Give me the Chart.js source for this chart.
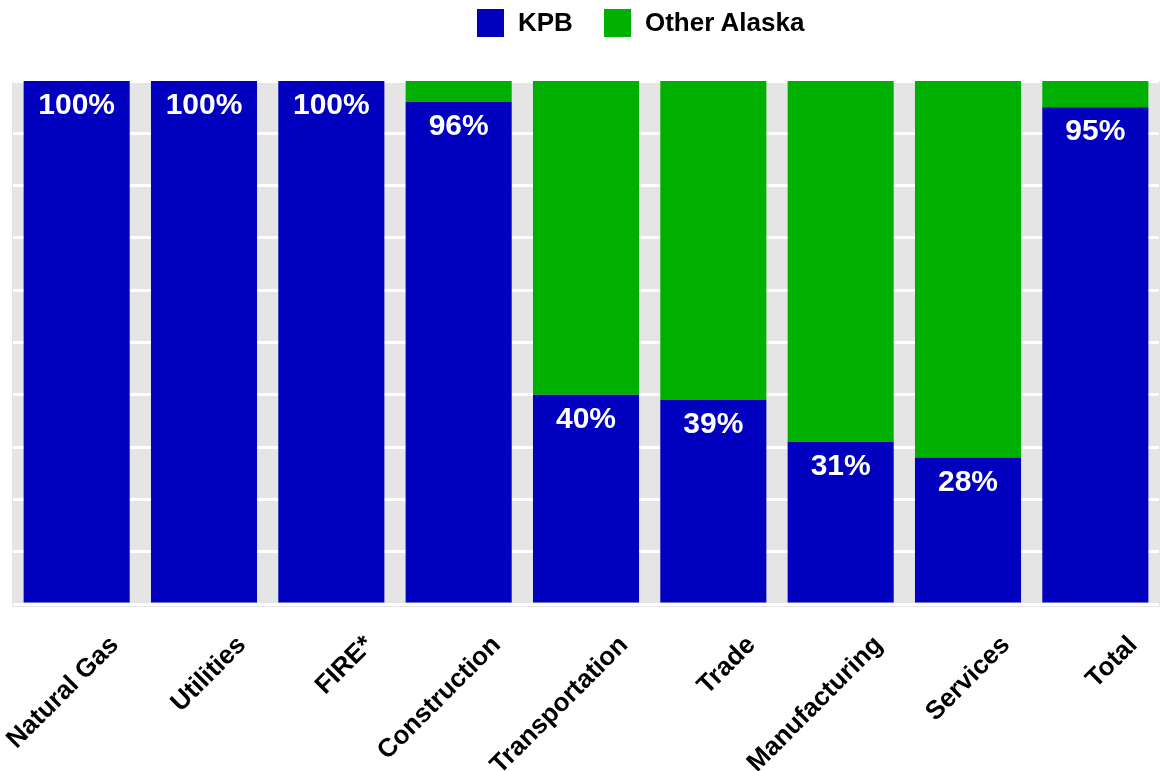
<!DOCTYPE html>
<html>
<head>
<meta charset="utf-8">
<script src="https://cdn.jsdelivr.net/npm/chart.js@4.4.1/dist/chart.umd.min.js"></script>
<style>
  html, body { margin: 0; padding: 0; background: #fff; }
  #wrap { position: relative; width: 1160px; height: 771px; }
  #legend { position: absolute; top: 7px; left: 477px; display: flex; align-items: center;
            font-family: "Liberation Sans", Arial, sans-serif; font-weight: bold; font-size: 26px; color: #000; }
  .item { display: flex; align-items: center; }
  .box { width: 27px; height: 28px; margin-right: 14px; }
</style>
</head>
<body>
<div id="wrap">
  <canvas id="c" width="1160" height="771"></canvas>
  <div id="legend"></div>
</div>
<script>
const categories = ["Natural Gas", "Utilities", "FIRE*", "Construction", "Transportation", "Trade", "Manufacturing", "Services", "Total"];
const kpbValues = [100, 100, 100, 96, 40, 39, 31, 28, 95];
const otherAlaskaValues = [0, 0, 0, 4, 60, 61, 69, 72, 5];
const seriesNames = ["KPB", "Other Alaska"];
const seriesColors = ["#0000BE", "#00B000"];

// HTML legend
const legendEl = document.getElementById('legend');
seriesNames.forEach((n, i) => {
  const it = document.createElement('div');
  it.className = 'item';
  if (i > 0) it.style.marginLeft = '31px';
  const b = document.createElement('div');
  b.className = 'box';
  b.style.background = seriesColors[i];
  const t = document.createElement('span');
  t.textContent = n;
  it.appendChild(b); it.appendChild(t);
  legendEl.appendChild(it);
});

const bgPlugin = {
  id: 'bg',
  beforeDraw(chart) {
    const {ctx, chartArea: a} = chart;
    ctx.save();
    ctx.fillStyle = '#E5E5E5';
    ctx.fillRect(a.left - 1, a.top, chart.width - a.left + 1, a.bottom - a.top + 3);
    ctx.restore();
  }
};

const labelPlugin = {
  id: 'barLabels',
  afterDatasetsDraw(chart) {
    const {ctx} = chart;
    const meta = chart.getDatasetMeta(0);
    ctx.save();
    ctx.fillStyle = '#FFFFFF';
    ctx.font = 'bold 30px "Liberation Sans", Arial, sans-serif';
    ctx.textAlign = 'center';
    ctx.textBaseline = 'alphabetic';
    meta.data.forEach((bar, i) => {
      ctx.fillText(kpbValues[i] + '%', bar.x, bar.y + 33);
    });
    ctx.restore();
  }
};

new Chart(document.getElementById('c'), {
  type: 'bar',
  data: {
    labels: categories,
    datasets: [
      { label: seriesNames[0], data: kpbValues, backgroundColor: seriesColors[0] },
      { label: seriesNames[1], data: otherAlaskaValues, backgroundColor: seriesColors[1] }
    ]
  },
  options: {
    responsive: false,
    animation: false,
    layout: { padding: { top: 81, left: 13, right: 1, bottom: 0 } },
    datasets: { bar: { categoryPercentage: 1, barPercentage: 0.833, borderWidth: 0 } },
    plugins: { legend: { display: false }, tooltip: { enabled: false }, title: { display: false } },
    scales: {
      x: {
        stacked: true,
        grid: { display: false, drawTicks: false },
        border: { display: false },
        afterFit(s) { s.height = 167; s.paddingLeft = 0; s.paddingRight = 0; },
        ticks: {
          autoSkip: false,
          maxRotation: 45, minRotation: 45,
          padding: 26,
          labelOffset: 38,
          color: '#000',
          font: { family: '"Liberation Sans", Arial, sans-serif', weight: 'bold', size: 26 }
        }
      },
      y: {
        stacked: true,
        min: 0, max: 100,
        afterFit(s) { s.width = 0; s.paddingTop = 0; s.paddingBottom = 0; },
        border: { display: false },
        grid: { color: '#FFFFFF', lineWidth: 3, drawTicks: false },
        ticks: { display: false, stepSize: 10 }
      }
    }
  },
  plugins: [bgPlugin, labelPlugin]
});
</script>
</body>
</html>
